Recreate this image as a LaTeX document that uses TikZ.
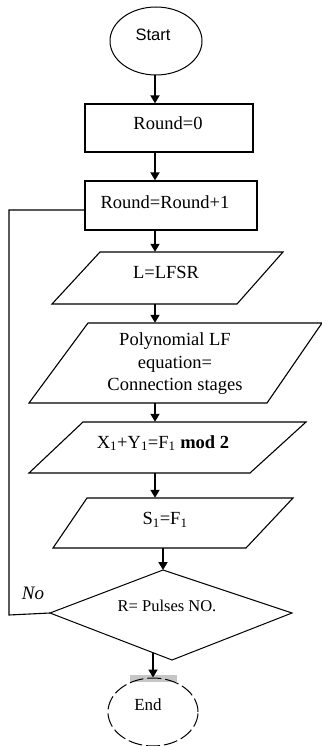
\documentclass[tikz,border=0pt]{standalone}
\usepackage{fontspec}
\setmainfont{Liberation Serif}
\newfontfamily\ssf{Liberation Sans}
\usetikzlibrary{shapes.geometric,arrows.meta}
\tikzset{
  boxnode/.style={draw, line width=1.3pt, rectangle, inner sep=0pt},
  txt/.style={inner sep=0pt, align=center, font=\fontsize{18.5}{22.5}\selectfont},
  para/.style={draw, line width=1.1pt, line join=miter},
  arr/.style={line width=1.8pt, -{Triangle[length=8pt,width=9pt]}},
  thinline/.style={draw, line width=1pt}
}
\begin{document}
\begin{tikzpicture}[x=1pt,y=-1pt]
\useasboundingbox (0,0) rectangle (321,746);
\coordinate (ax) at (155,0);
% Start
\node[ellipse, draw, line width=1pt, minimum width=92pt, minimum height=68pt, inner sep=0pt] (start) at (156,41) {};
\node[txt, font=\ssf\fontsize{16.5}{18}\selectfont] (starttxt) at (153,35) {Start};
% Round=0
\node[boxnode, minimum width=168pt, minimum height=48pt] (r0) at (169,128) {};
\node[txt] (r0t) at (168,123) {Round=0};
% Round=Round+1
\node[boxnode, minimum width=172pt, minimum height=49pt] (r1) at (171,205.5) {};
\node[txt] (r1t) at (165,202) {Round=Round+1};
% L=LFSR
\draw[para] (100,252) -- (283,252) -- (237,304) -- (52,304) -- cycle;
\node[inner sep=0pt, minimum width=180pt, minimum height=52pt] (lfsr) at (167,278) {};
\node[txt] (lfsrt) at (166,272) {L=LFSR};
% Polynomial
\draw[para] (88,323) -- (322,323) -- (267,403) -- (29,403) -- cycle;
\node[inner sep=0pt, minimum width=200pt, minimum height=80pt] (poly) at (175,363) {};
\node[txt] (polyt) at (175,364) {Polynomial LF\\equation=\\Connection stages};
% X1+Y1
\draw[para] (83,422) -- (306,422) -- (250,473) -- (29,473) -- cycle;
\node[inner sep=0pt, minimum width=200pt, minimum height=51pt] (xy) at (167,447.5) {};
\node[txt] (xyt) at (163,443) {X\textsubscript{1}+Y\textsubscript{1}=F\textsubscript{1} \textbf{mod 2}};
% S1=F1
\draw[para] (87,498) -- (293,498) -- (246,548) -- (53,548) -- cycle;
\node[inner sep=0pt, minimum width=180pt, minimum height=50pt] (sf) at (170,523) {};
\node[txt] (sft) at (165,520) {S\textsubscript{1}=F\textsubscript{1}};
% Decision
\draw[line width=1pt] (163,570) -- (292,613) -- (172,660) -- (50,613) -- cycle;
\coordinate (diaT) at (163,570);
\coordinate (diaL) at (50,613);
\coordinate (diaB) at (153,652.5);
\node[txt, font=\fontsize{16.5}{18}\selectfont] (dia) at (167,606) {R= Pulses NO.};
% End
\fill[gray!45] (130,675) rectangle (177,682);
\node[ellipse, draw, dashed, dash pattern=on 14pt off 4pt, line width=1pt, minimum width=90pt, minimum height=68pt, inner sep=0pt] (endn) at (153,712) {};
\node[txt, font=\fontsize{17}{20}\selectfont] (endt) at (148,705) {End};
% arrows
\draw[arr] (start.south -| ax) -- (r0.north -| ax);
\draw[arr] (r0.south -| ax) -- (r1.north -| ax);
\draw[arr] (r1.south -| ax) -- (lfsr.north -| ax);
\draw[arr] (lfsr.south -| ax) -- (poly.north -| ax);
\draw[arr] (poly.south -| ax) -- (xy.north -| ax);
\draw[arr] (xy.south -| ax) -- (sf.north -| ax);
\draw[arr] (sf.south -| diaT) -- (diaT);
\draw[arr] (diaB) -- (endn.north -| diaB);
% feedback loop
\coordinate (fb) at (85,210);
\draw[line width=1.1pt] (diaL) -- (9,615) -- (9,210) -- (fb);
\node[txt, font=\itshape\fontsize{19}{22}\selectfont] (no) at (33,593) {No};
\end{tikzpicture}
\end{document}
